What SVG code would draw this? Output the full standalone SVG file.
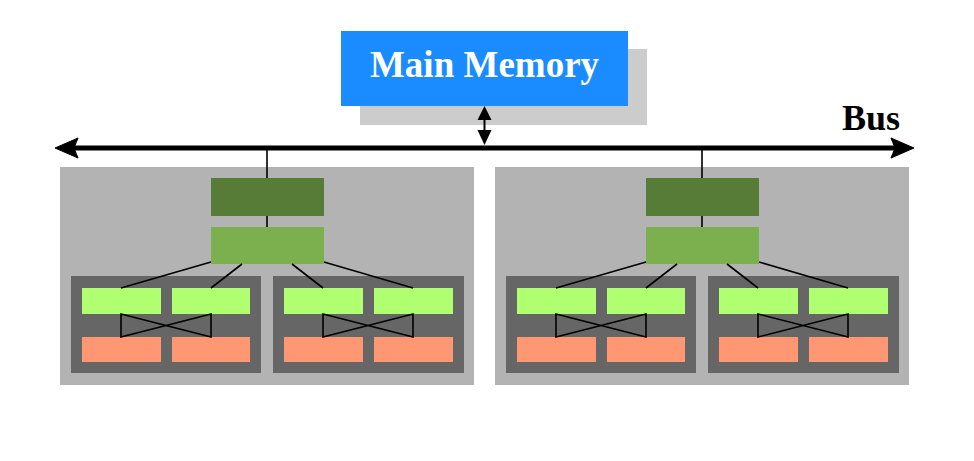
<svg xmlns="http://www.w3.org/2000/svg" width="974" height="461" viewBox="0 0 974 461">
<style>
.big{fill:#b3b3b3}
.sub{fill:#666666}
.dg{fill:#567c37}
.lg{fill:#7cb04f}
.bg{fill:#b0ff70}
.sa{fill:#ff9872}
.ln{stroke:#000;stroke-width:1.6;fill:none}
.t{font-family:"Liberation Serif","Times New Roman",serif;font-weight:bold}
</style>
<rect width="974" height="461" fill="#ffffff"/>
<g id="main-memory">
<rect x="360" y="49" width="287" height="76" fill="#cccccc"/>
<rect x="341" y="31" width="287" height="75" fill="#1a8cff"/>
<text class="t" x="484.5" y="77" font-size="37" fill="#ffffff" text-anchor="middle">Main Memory</text>
</g>
<g id="bus-label"><text class="t" x="871" y="130" font-size="36" fill="#000" text-anchor="middle">Bus</text></g>
<g id="node1">
<rect class="big" x="60" y="167" width="414" height="218"/>
<rect class="dg" x="211" y="178" width="113" height="38"/>
<rect class="lg" x="211" y="227" width="113" height="37"/>
<rect class="sub" x="71" y="276" width="190" height="97"/>
<rect class="sub" x="273" y="276" width="191" height="97"/>
<rect class="bg" x="82" y="288" width="79" height="26"/>
<rect class="bg" x="172" y="288" width="78" height="26"/>
<rect class="bg" x="284" y="288" width="79" height="26"/>
<rect class="bg" x="374" y="288" width="79" height="26"/>
<rect class="sa" x="82" y="337" width="79" height="25"/>
<rect class="sa" x="172" y="337" width="78" height="25"/>
<rect class="sa" x="284" y="337" width="79" height="25"/>
<rect class="sa" x="374" y="337" width="79" height="25"/>
</g>
<g id="node2">
<rect class="big" x="495" y="167" width="414" height="218"/>
<rect class="dg" x="646" y="178" width="113" height="38"/>
<rect class="lg" x="646" y="227" width="113" height="37"/>
<rect class="sub" x="506" y="276" width="190" height="97"/>
<rect class="sub" x="708" y="276" width="191" height="97"/>
<rect class="bg" x="517" y="288" width="79" height="26"/>
<rect class="bg" x="607" y="288" width="78" height="26"/>
<rect class="bg" x="719" y="288" width="79" height="26"/>
<rect class="bg" x="809" y="288" width="79" height="26"/>
<rect class="sa" x="517" y="337" width="79" height="25"/>
<rect class="sa" x="607" y="337" width="78" height="25"/>
<rect class="sa" x="719" y="337" width="79" height="25"/>
<rect class="sa" x="809" y="337" width="79" height="25"/>
</g>
<g id="connectors">
<line x1="72" y1="148" x2="898" y2="148" stroke="#000" stroke-width="5"/>
<path d="M55 148 L78 138 L74 148 L78 158 Z" fill="#000" stroke="#000" stroke-width="1" stroke-linejoin="round"/>
<path d="M914 148 L891 138 L895 148 L891 158 Z" fill="#000" stroke="#000" stroke-width="1" stroke-linejoin="round"/>
<line x1="484.5" y1="118" x2="484.5" y2="132" stroke="#000" stroke-width="2"/>
<path d="M484.5 106 L477.5 120 L491.5 120 Z" fill="#000"/>
<path d="M484.5 145 L477.5 130 L491.5 130 Z" fill="#000"/>
<g class="ln">
<path d="M267 150 V178 M267 216 V227"/>
<path d="M211 262 L121 288 M242 264 L211 288 M292 264 L323 288 M324 262 L413 288"/>
<path d="M121 314 V337 L211 314 V337 Z"/>
<path d="M323 314 V337 L413 314 V337 Z"/>
<path d="M702 150 V178 M702 216 V227"/>
<path d="M646 262 L556 288 M677 264 L646 288 M727 264 L758 288 M759 262 L848 288"/>
<path d="M556 314 V337 L646 314 V337 Z"/>
<path d="M758 314 V337 L848 314 V337 Z"/>
</g>
</g>
</svg>
